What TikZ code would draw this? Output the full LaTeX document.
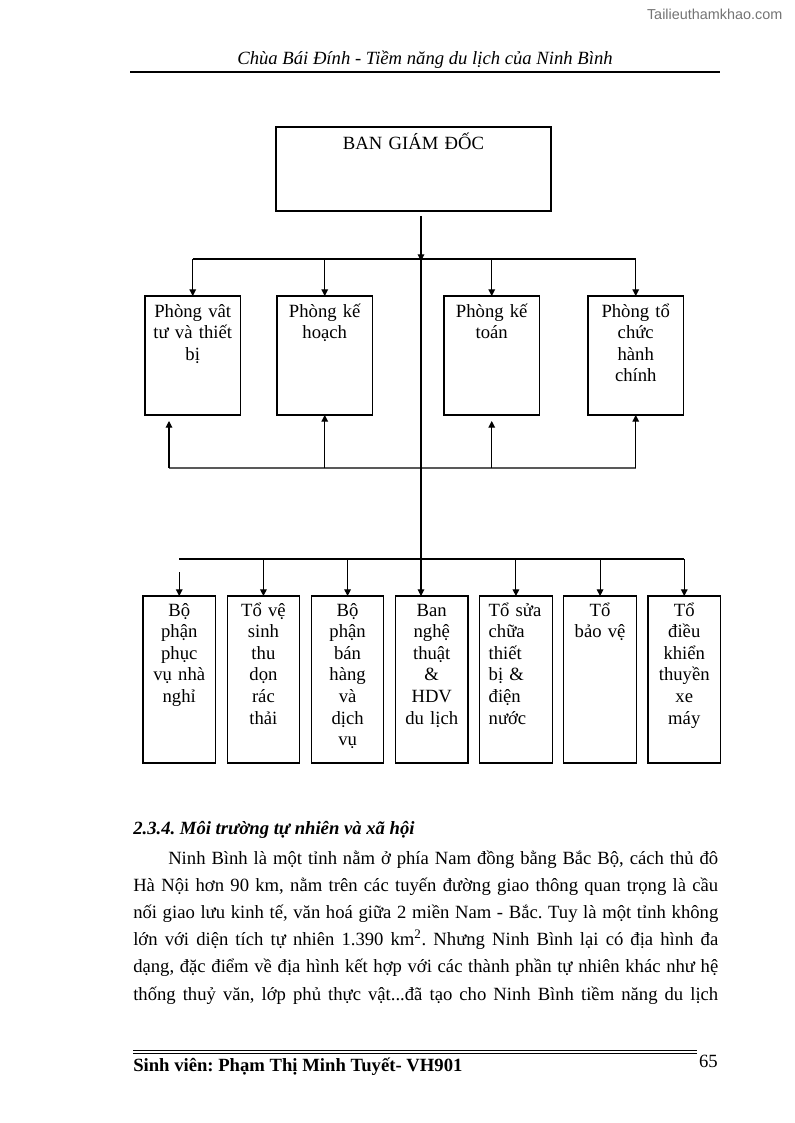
\documentclass[tikz,border=0pt]{standalone}
\usepackage{fontspec}
\setmainfont{Liberation Serif}
\newfontfamily\wmfont{Liberation Sans}
\usetikzlibrary{arrows.meta,positioning}
\frenchspacing

\begin{document}
\begin{tikzpicture}[
  x=0.75pt, y=-0.75pt,
  font=\fontsize{14}{16.2}\selectfont,
  head/.style={draw, line width=0.8pt, anchor=north west, outer sep=0pt,
    align=center, inner xsep=2pt, inner ysep=3pt,
    text width=202.25pt, text height=14.25pt, text depth=42.75pt},
  dept/.style={draw, line width=0.8pt, anchor=north west, outer sep=0pt,
    align=center, inner xsep=2pt, inner ysep=3pt,
    text width=67.6pt, text height=12.75pt, text depth=70.5pt},
  team/.style={draw, line width=0.8pt, anchor=north west, outer sep=0pt,
    align=center, inner xsep=2pt, inner ysep=3pt,
    text width=50.375pt, text height=12pt, text depth=107.25pt},
  arrow/.style={-{Triangle[length=5pt,width=5pt]}, line width=0.8pt},
  bus/.style={line width=0.8pt},
  busg/.style={line width=1.4pt, draw=black!65}
]
\useasboundingbox (0,0) rectangle (794,1123);

% Page header
\node[anchor=east, font=\wmfont\fontsize{10.8}{12}\selectfont, text=black!55] (wm) at (787,14) {Tailieuthamkhao.com};
\node[anchor=base] (hdr) at (425,65) {\itshape Chùa Bái Đính - Tiềm năng du lịch của Ninh Bình};
\draw[line width=1.5pt] (130,72) -- (720,72);

% Top box
\node[head] (bgd) at (276,127) {BAN GIÁM ĐỐC};

% Departments - second row
\node[dept] (pvt) at (145,296) {Phòng vât\\tư và thiết\\bị};
\node[dept] (pkh) at (277,296) {Phòng kế\\hoạch};
\node[dept] (pkt) at (444,296) {Phòng kế\\toán};
\node[dept] (ptc) at (588,296) {Phòng tổ\\chức\\hành\\chính};

% Teams - third row
\node[team] (pvnn) at (143,596) {Bộ\\phận\\phục\\vụ nhà\\nghỉ};
\node[team, right=8.75pt of pvnn] (tvs) {Tổ vệ\\sinh\\thu\\dọn\\rác\\thải};
\node[team, right=8.75pt of tvs] (bhdv) {Bộ\\phận\\bán\\hàng\\và\\dịch\\vụ};
\node[team, right=8.75pt of bhdv] (bnt) {Ban\\nghệ\\thuật\\\&\\HDV\\du lịch};
\node[team, right=8.75pt of bnt, align=left, inner xsep=6.75pt, text width=40.875pt] (tsc) {Tổ sửa\\chữa\\thiết\\bị \&\\điện\\nước};
\node[team, right=8.75pt of tsc] (tbv) {Tổ\\bảo vệ};
\node[team, right=8.75pt of tbv] (tdk) {Tổ\\điều\\khiển\\thuyền\\xe\\máy};

% Bus lines
\coordinate (trunk) at (421,216);
\coordinate (b1) at (0,259);
\coordinate (b2) at (0,468);
\coordinate (b3) at (0,559);
\coordinate (u1) at (169,468);
\draw[bus] (pvt.north |- b1) -- (ptc.north |- b1);
\draw[busg] (u1) -- (ptc.south |- b2);
\draw[bus] (pvnn.north |- b3) -- (tdk.north |- b3);

% Trunk from the top box
\draw[arrow, shorten >=-1.5pt] (trunk) -- (trunk |- b1);
\draw[arrow] (trunk |- b1) -- (trunk |- bnt.north);

% Arrows down to departments
\foreach \d in {pvt,pkh,pkt,ptc}
  \draw[arrow] (\d.north |- b1) -- (\d.north);

% Arrows up to departments
\draw[arrow, shorten >=4.5pt] (u1) -- (u1 |- pvt.south);
\draw[arrow] (pkh.south |- b2) -- (pkh.south);
\draw[arrow, shorten >=4.5pt] (pkt.south |- b2) -- (pkt.south);
\draw[arrow] (ptc.south |- b2) -- (ptc.south);

% Arrows down to teams
\draw[arrow, shorten <=9.75pt] (pvnn.north |- b3) -- (pvnn.north);
\foreach \t in {tvs,bhdv,tsc,tbv,tdk}
  \draw[arrow] (\t.north |- b3) -- (\t.north);

% Text below the chart
\node[anchor=base west, inner sep=0pt] (sec) at (133,834) {\bfseries\itshape 2.3.4. Môi trường tự nhiên và xã hội};
\node[anchor=base west, inner sep=0pt, font=\fontsize{14}{20.4}\selectfont] (par) at (133,864)
  {\begin{minipage}[t]{438.75pt}\parfillskip=0pt
   \hspace*{26.25pt}Ninh Bình là một tỉnh nằm ở phía Nam đồng bằng Bắc Bộ, cách thủ đô\linebreak
   Hà Nội hơn 90 km, nằm trên các tuyến đường giao thông quan trọng là cầu\linebreak
   nối giao lưu kinh tế, văn hoá giữa 2 miền Nam - Bắc. Tuy là một tỉnh không\linebreak
   lớn với diện tích tự nhiên 1.390 km\textsuperscript{2}. Nhưng Ninh Bình lại có địa hình đa\linebreak
   dạng, đặc điểm về địa hình kết hợp với các thành phần tự nhiên khác như hệ\linebreak
   thống thuỷ văn, lớp phủ thực vật...đã tạo cho Ninh Bình tiềm năng du lịch\par
   \end{minipage}};

% Page footer
\draw[line width=0.6pt] (133,1050) -- (697,1050);
\draw[line width=0.9pt] (133,1053.5) -- (697,1053.5);
\node[anchor=base west, inner sep=0pt] (ftr) at (133,1071) {\bfseries Sinh viên: Phạm Thị Minh Tuyết- VH901};
\node[anchor=base east, inner sep=0pt] (pg) at (718,1067) {65};

\end{tikzpicture}
\end{document}
